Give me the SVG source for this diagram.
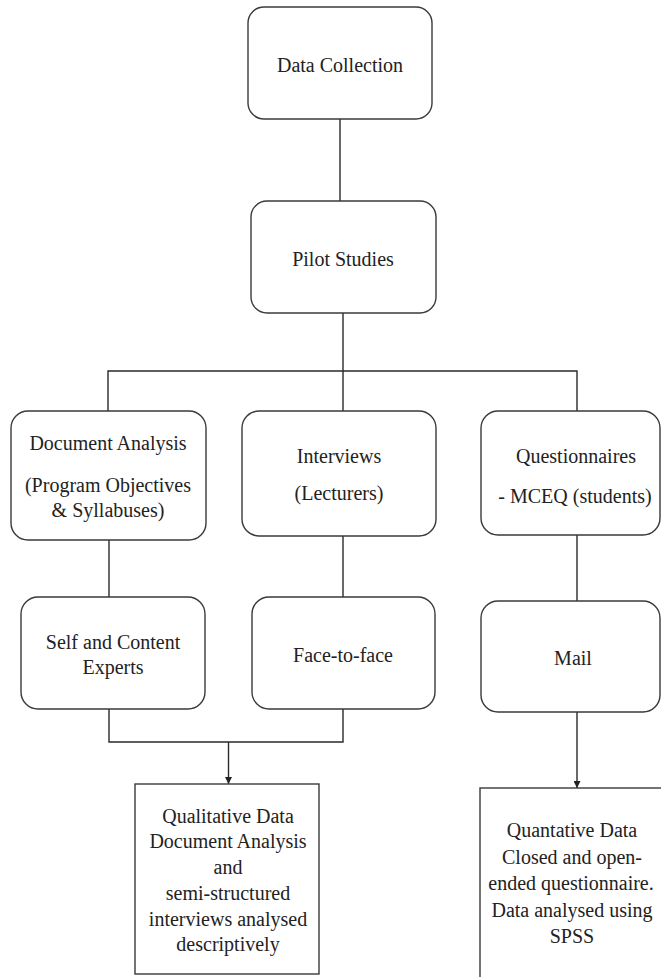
<svg xmlns="http://www.w3.org/2000/svg" width="661" height="977" viewBox="0 0 661 977">
<style>
.box{fill:#fff;stroke:#3a3a3a;stroke-width:1.4}
.ln{fill:none;stroke:#2a2a2a;stroke-width:1.4}
text{font-family:"Liberation Serif","Times New Roman",serif;font-size:20px;fill:#222;text-anchor:middle}
</style>
<defs>
<marker id="arr" viewBox="0 0 10 10" refX="10" refY="5" markerWidth="7" markerHeight="7" markerUnits="userSpaceOnUse" orient="auto">
<path d="M0,0 L10,5 L0,10 Z" fill="#222"/>
</marker>
</defs>
<rect width="661" height="977" fill="#fff"/>
<g id="connectors">
<path class="ln" d="M340,119 V201"/>
<path class="ln" d="M343,313 V371"/>
<path class="ln" d="M108,411 V371 H577 V411"/>
<path class="ln" d="M343,371 V411"/>
<path class="ln" d="M109,540 V597"/>
<path class="ln" d="M343,536 V597"/>
<path class="ln" d="M577,535 V601"/>
<path class="ln" d="M109,709 V742 H343 V709"/>
<path class="ln" d="M228.5,742 V784" marker-end="url(#arr)"/>
<path class="ln" d="M577,712 V788" marker-end="url(#arr)"/>
</g>
<g id="data-collection">
<rect class="box" x="248" y="7" width="184" height="112" rx="16"/>
<text x="340" y="72">Data Collection</text>
</g>
<g id="pilot-studies">
<rect class="box" x="251" y="201" width="185" height="112" rx="16"/>
<text x="343" y="266">Pilot Studies</text>
</g>
<g id="document-analysis">
<rect class="box" x="11" y="411" width="195" height="129" rx="17"/>
<text x="108" y="450">Document Analysis</text>
<text x="108" y="492">(Program Objectives</text>
<text x="108" y="517">&amp; Syllabuses)</text>
</g>
<g id="interviews">
<rect class="box" x="242" y="411" width="194" height="125" rx="17"/>
<text x="339" y="463">Interviews</text>
<text x="339" y="500">(Lecturers)</text>
</g>
<g id="questionnaires">
<rect class="box" x="481" y="411" width="179" height="124" rx="17"/>
<text x="576" y="463">Questionnaires</text>
<text x="575" y="503">- MCEQ (students)</text>
</g>
<g id="self-content-experts">
<rect class="box" x="21" y="597" width="184" height="112" rx="17"/>
<text x="113" y="649">Self and Content</text>
<text x="113" y="674">Experts</text>
</g>
<g id="face-to-face">
<rect class="box" x="252" y="597" width="183" height="112" rx="17"/>
<text x="343" y="662">Face-to-face</text>
</g>
<g id="mail">
<rect class="box" x="481" y="601" width="179" height="111" rx="17"/>
<text x="573" y="665">Mail</text>
</g>
<g id="qualitative-data">
<rect class="box" x="135" y="784" width="184" height="190"/>
<text x="228" y="823">Qualitative Data</text>
<text x="228" y="848">Document Analysis</text>
<text x="228" y="874">and</text>
<text x="228" y="900">semi-structured</text>
<text x="228" y="926">interviews analysed</text>
<text x="228" y="951">descriptively</text>
</g>
<g id="quantative-data">
<rect class="box" x="480" y="788" width="182" height="200"/>
<text x="572" y="837">Quantative Data</text>
<text x="572" y="864">Closed and open-</text>
<text x="571" y="890">ended questionnaire.</text>
<text x="572" y="917">Data analysed using</text>
<text x="572" y="943">SPSS</text>
</g>
</svg>
